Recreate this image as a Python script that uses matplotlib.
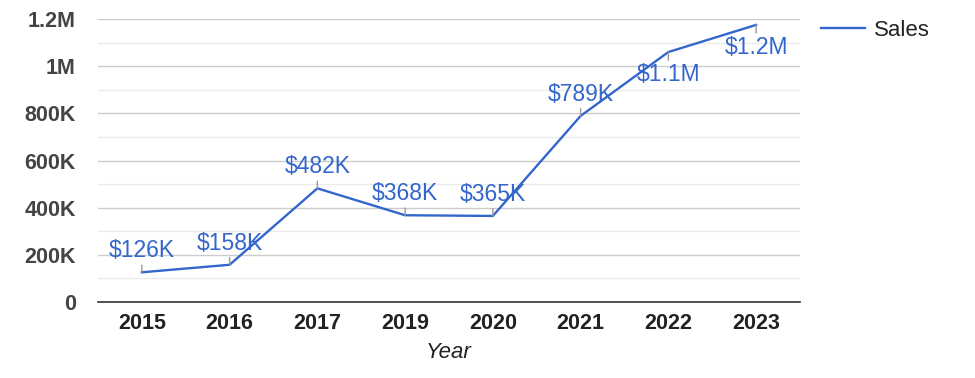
import matplotlib.pyplot as plt
from matplotlib.ticker import FuncFormatter, MultipleLocator

# Daten
jahre = ['2015', '2016', '2017', '2019', '2020', '2021', '2022', '2023']
umsatz = [126000, 158000, 482000, 368000, 365000, 789000, 1060000, 1175000]
beschriftung = ['$126K', '$158K', '$482K', '$368K', '$365K', '$789K', '$1.1M', '$1.2M']
unten = [False, False, False, False, False, False, True, True]

plt.rcParams['font.family'] = ['Liberation Sans', 'DejaVu Sans']

blau = '#3366CC'

fig = plt.figure(figsize=(9.75, 3.78), dpi=100)
ax = fig.add_axes([0.1005, 0.201, 0.72, 0.7487])

x = list(range(len(jahre)))
ax.plot(x, umsatz, color=blau, lw=1.7, label='Sales', zorder=3)

# Werte-Beschriftungen mit kleinen Stielen
for i, (wert, text) in enumerate(zip(umsatz, beschriftung)):
    if unten[i]:
        off, va = -11, 'top'
    else:
        off, va = 10, 'bottom'
    ax.annotate(text, (i, wert), xytext=(0, off), textcoords='offset pixels',
                ha='center', va=va, fontsize=16.5, color=blau,
                arrowprops=dict(arrowstyle='-', color='#999999', lw=1,
                                shrinkA=0, shrinkB=0),
                annotation_clip=False, zorder=4)

ax.set_xlim(-0.5, len(jahre) - 0.5)
ax.set_ylim(0, 1200000)
ax.set_xticks(x)
ax.set_xticklabels(jahre, fontweight='bold', fontsize=15.5, color='#222222')

ax.yaxis.set_major_locator(MultipleLocator(200000))
ax.yaxis.set_minor_locator(MultipleLocator(100000))


def y_format(v, pos):
    if v == 0:
        return '0'
    if v >= 1000000:
        s = f'{v / 1000000:.1f}'.rstrip('0').rstrip('.')
        return s + 'M'
    return f'{int(v / 1000)}K'


ax.yaxis.set_major_formatter(FuncFormatter(y_format))
for lbl in ax.get_yticklabels():
    lbl.set_fontweight('bold')
ax.tick_params(axis='y', which='major', labelsize=15.5, labelcolor='#444444', length=0, pad=16)
ax.tick_params(axis='y', which='minor', length=0)
ax.tick_params(axis='x', length=0, pad=8)

ax.grid(axis='y', which='major', color='#cccccc', lw=1)
ax.grid(axis='y', which='minor', color='#ebebeb', lw=1)
ax.set_axisbelow(True)

for side in ['left', 'right', 'top']:
    ax.spines[side].set_visible(False)
ax.spines['bottom'].set_color('#333333')
ax.spines['bottom'].set_linewidth(1.2)

ax.set_xlabel('Year', fontstyle='italic', fontsize=16, color='#222222', labelpad=6)

fig.legend(loc='center left', bbox_to_anchor=(821 / 975, 1 - 30 / 378), frameon=False,
           fontsize=16, handlelength=2.0, handletextpad=0.4, borderpad=0,
           borderaxespad=0, labelcolor='#222222')

plt.savefig('out.png', dpi=100)
